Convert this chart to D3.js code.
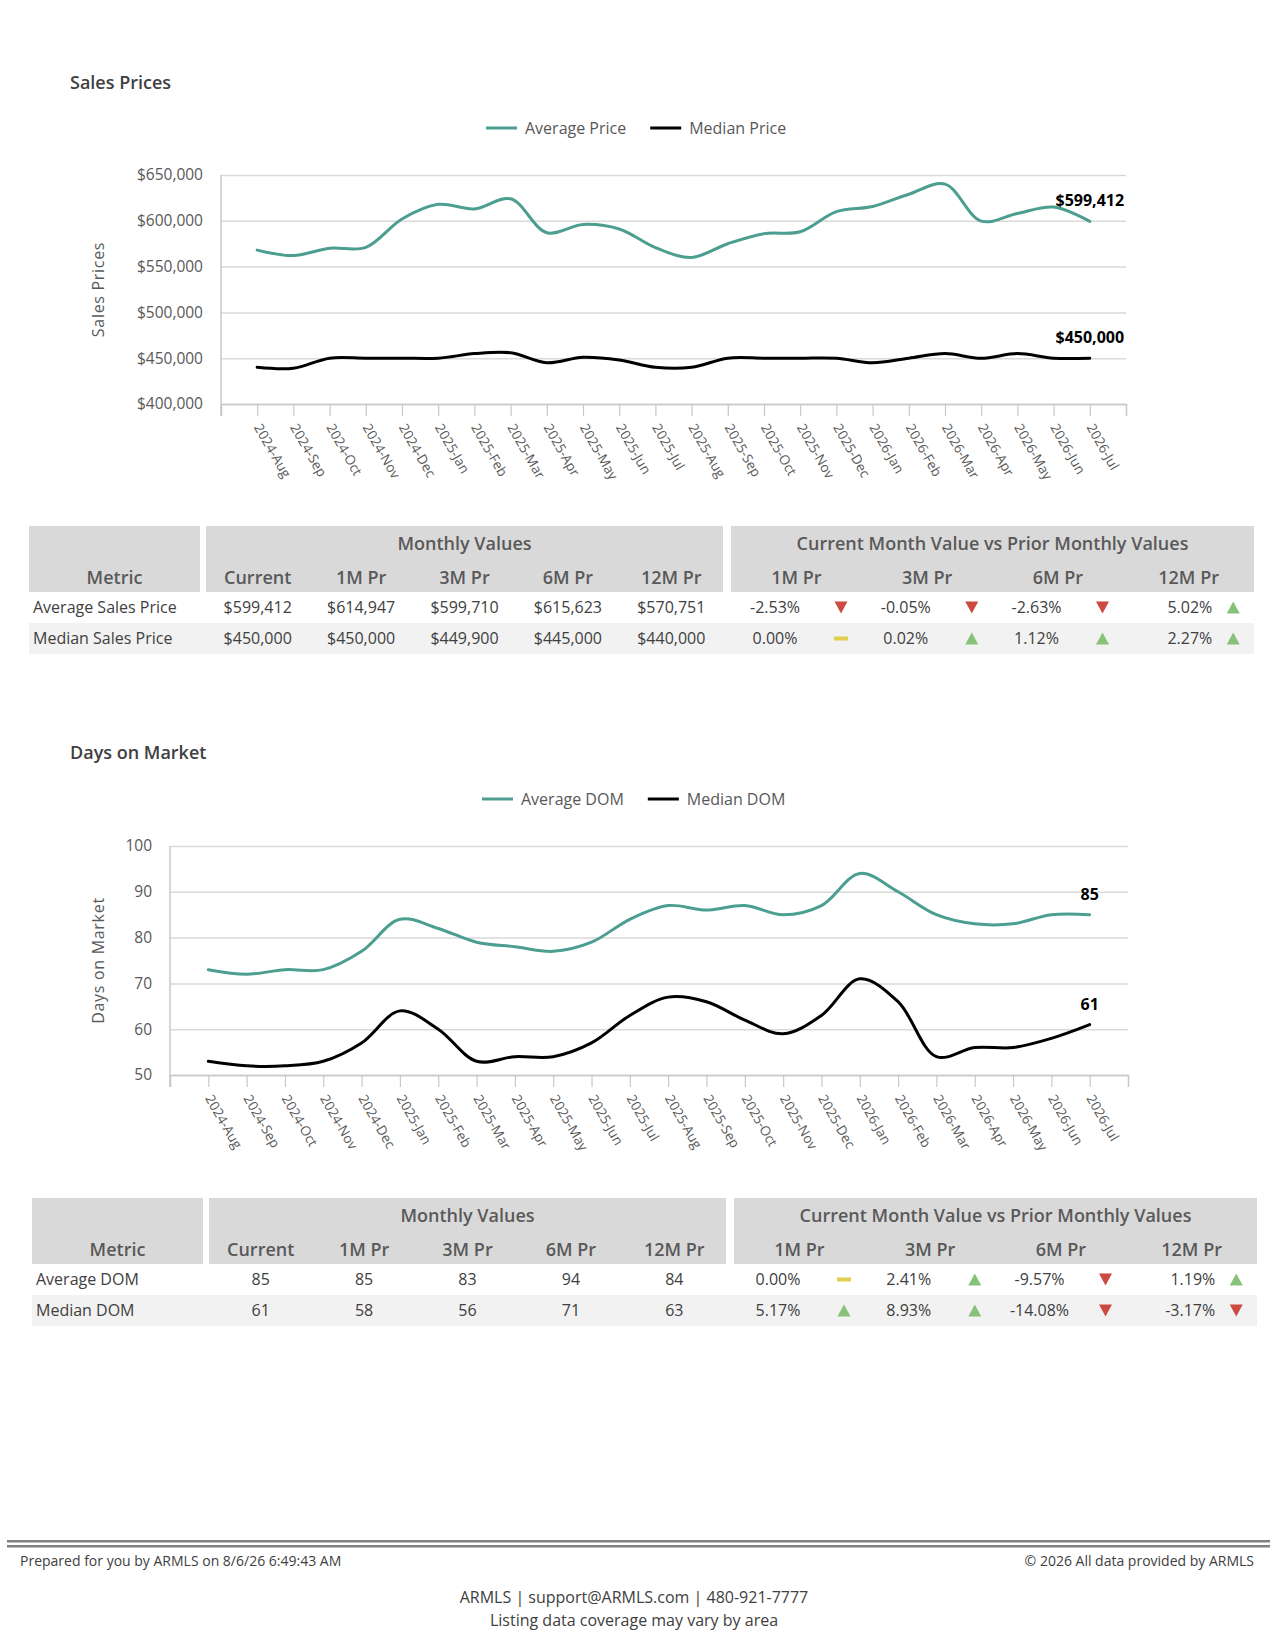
<!DOCTYPE html>
<html>
<head>
<meta charset="utf-8">
<script src="https://cdn.jsdelivr.net/npm/d3@7/dist/d3.min.js"></script>
<style>
  body { margin: 0; background: #fff; }
  svg { display: block; font-family: "Open Sans", sans-serif; }
</style>
</head>
<body>
<div id="page"></div>
<script>
// ---- data ----
var months = ['2024-Aug','2024-Sep','2024-Oct','2024-Nov','2024-Dec','2025-Jan','2025-Feb','2025-Mar',
  '2025-Apr','2025-May','2025-Jun','2025-Jul','2025-Aug','2025-Sep','2025-Oct','2025-Nov','2025-Dec',
  '2026-Jan','2026-Feb','2026-Mar','2026-Apr','2026-May','2026-Jun','2026-Jul'];

var avgPrice = [568000,562000,570000,571000,602000,618000,613000,624000,587000,596000,591000,570751,
  560000,575000,586000,588000,610000,615623,629000,640000,599710,608000,614947,599412];
var medPrice = [440000,439000,450000,450000,450000,450000,455000,456000,445000,451000,448000,440000,
  440000,450000,450000,450000,450000,445000,450000,455000,449900,455000,450000,450000];

var avgDom = [73,72,73,73,77,84,82,79,78,77,79,84,87,86,87,85,87,94,90,85,83,83,85,85];
var medDom = [53,52,52,53,57,64,60,53,54,54,57,63,67,66,62,59,63,71,66,54,56,56,58,61];

var priceTicks = [400000,450000,500000,550000,600000,650000];
var domTicks = [50,60,70,80,90,100];

var monthlyCols = ['Current','1M Pr','3M Pr','6M Pr','12M Pr'];
var changeCols = ['1M Pr','3M Pr','6M Pr','12M Pr'];

var priceMetrics = ['Average Sales Price','Median Sales Price'];
var priceMonthly = [[599412,614947,599710,615623,570751],[450000,450000,449900,445000,440000]];
var priceChange = [[-2.53,-0.05,-2.63,5.02],[0.00,0.02,1.12,2.27]];

var domMetrics = ['Average DOM','Median DOM'];
var domMonthly = [[85,85,83,94,84],[61,58,56,71,63]];
var domChange = [[0.00,2.41,-9.57,1.19],[5.17,8.93,-14.08,-3.17]];

var TEAL = '#4b9e90', GRID = '#d9d9d9', AXIS = '#c8c8c8', TXT = '#595959', DARK = '#404040';
var UP = '#86c27a', DOWN = '#cc4a42', FLAT = '#e2cf4f';

var svg = d3.select('#page').append('svg').attr('width', 1275).attr('height', 1650);

var fmtPrice = d3.format('$,.0f');
var fmtInt = d3.format('d');
function fmtPct(v) { return v.toFixed(2) + '%'; }

function drawChart(c) {
  var g = svg.append('g');
  var x = d3.scalePoint().domain(months).range([c.left, c.right]).padding(1);
  var y = d3.scaleLinear().domain(c.yDomain).range([c.bottom, c.top]);

  g.append('text').attr('x', 70).attr('y', c.titleY)
    .style('font-size', '18px').style('font-weight', 600).attr('fill', DARK).text(c.title);

  // legend
  var lx = c.legendX;
  c.series.forEach(function (s) {
    g.append('line').attr('x1', lx).attr('x2', lx + 31).attr('y1', c.legendY).attr('y2', c.legendY)
      .attr('stroke', s.color).attr('stroke-width', 3);
    var t = g.append('text').attr('x', lx + 39).attr('y', c.legendY).attr('dy', '0.35em')
      .style('font-size', '16px').attr('fill', TXT).text(s.name);
    lx += 39 + t.node().getComputedTextLength() + 24;
  });

  // y axis + gridlines
  var ya = g.append('g').attr('transform', 'translate(' + c.left + ',0)')
    .call(d3.axisLeft(y).tickValues(c.yTicks).tickSize(-(c.right - c.left)).tickPadding(18).tickFormat(c.yFormat));
  ya.attr('font-family', null).attr('font-size', null);
  ya.select('.domain').remove();
  ya.selectAll('.tick line').attr('stroke', GRID).attr('stroke-width', 1.5);
  ya.selectAll('.tick text').attr('fill', TXT).style('font-size', '15.5px');

  g.append('line').attr('x1', c.left).attr('x2', c.left).attr('y1', c.top).attr('y2', c.bottom + 12)
    .attr('stroke', AXIS).attr('stroke-width', 1.5);

  // x axis
  var xa = g.append('g').attr('transform', 'translate(0,' + c.bottom + ')')
    .call(d3.axisBottom(x).tickSizeInner(12).tickSizeOuter(12));
  xa.attr('font-family', null).attr('font-size', null);
  xa.select('.domain').attr('stroke', AXIS).attr('stroke-width', 1.5);
  xa.selectAll('.tick line').attr('stroke', AXIS).attr('stroke-width', 1.2);
  xa.selectAll('.tick text')
    .attr('x', 0).attr('y', 0).attr('dy', '0.35em')
    .attr('transform', 'translate(0,21) rotate(60)')
    .attr('text-anchor', 'start').attr('fill', TXT).style('font-size', '13.5px');

  // axis title
  g.append('text')
    .attr('transform', 'translate(98,' + ((c.top + c.bottom) / 2) + ') rotate(-90)')
    .attr('text-anchor', 'middle').attr('dy', '0.35em')
    .style('font-size', '16px').style('letter-spacing', '0.7px').attr('fill', TXT).text(c.yTitle);

  // series
  var line = d3.line()
    .x(function (d, i) { return x(months[i]); })
    .y(function (d) { return y(d); })
    .curve(d3.curveCatmullRom);

  c.series.forEach(function (s) {
    g.append('path').datum(s.values).attr('d', line)
      .attr('fill', 'none').attr('stroke', s.color).attr('stroke-width', 3)
      .attr('stroke-linejoin', 'round').attr('stroke-linecap', 'round');
    var last = s.values[s.values.length - 1];
    g.append('text').attr('x', x(months[months.length - 1])).attr('y', y(last) - 15)
      .attr('text-anchor', 'middle').style('font-size', '16px').style('font-weight', 700)
      .attr('fill', '#000').text(c.yFormat(last));
  });
}

function drawIcon(g, cx, cy, v) {
  if (v > 0) {
    g.append('path').attr('d', 'M' + (cx - 6.5) + ',' + (cy + 6) + 'L' + (cx + 6.5) + ',' + (cy + 6) + 'L' + cx + ',' + (cy - 6) + 'Z').attr('fill', UP);
  } else if (v < 0) {
    g.append('path').attr('d', 'M' + (cx - 6.5) + ',' + (cy - 6) + 'L' + (cx + 6.5) + ',' + (cy - 6) + 'L' + cx + ',' + (cy + 6) + 'Z').attr('fill', DOWN);
  } else {
    g.append('rect').attr('x', cx - 7).attr('y', cy - 2).attr('width', 14).attr('height', 4).attr('fill', FLAT);
  }
}

function drawTable(t) {
  var g = svg.append('g').attr('transform', 'translate(' + t.dx + ',' + t.top + ')');
  var headH = 66, rowH = 31;
  var metricBox = [29, 200], monthBox = [206, 723], chgBox = [731, 1254];

  [metricBox, monthBox, chgBox].forEach(function (b) {
    g.append('rect').attr('x', b[0]).attr('y', 0).attr('width', b[1] - b[0]).attr('height', headH).attr('fill', '#d9d9d9');
  });
  t.metrics.forEach(function (m, i) {
    if (i % 2 === 1) {
      g.append('rect').attr('x', metricBox[0]).attr('y', headH + rowH * i)
        .attr('width', chgBox[1] - metricBox[0]).attr('height', rowH).attr('fill', '#f2f2f2');
    }
  });

  var xm = d3.scaleBand().domain(monthlyCols).range(monthBox);
  var xc = d3.scaleBand().domain(changeCols).range(chgBox);

  function head(x, y, s) {
    g.append('text').attr('x', x).attr('y', y).attr('dy', '0.35em').attr('text-anchor', 'middle')
      .style('font-size', '18px').style('font-weight', 600).attr('fill', TXT).text(s);
  }
  head((monthBox[0] + monthBox[1]) / 2, 18, 'Monthly Values');
  head((chgBox[0] + chgBox[1]) / 2, 18, 'Current Month Value vs Prior Monthly Values');
  head((metricBox[0] + metricBox[1]) / 2, 52, 'Metric');
  monthlyCols.forEach(function (c) { head(xm(c) + xm.bandwidth() / 2, 52, c); });
  changeCols.forEach(function (c) { head(xc(c) + xc.bandwidth() / 2, 52, c); });

  t.metrics.forEach(function (m, i) {
    var cy = headH + rowH * i + rowH / 2;
    function cell(x, s, anchor) {
      g.append('text').attr('x', x).attr('y', cy).attr('dy', '0.35em').attr('text-anchor', anchor || 'middle')
        .style('font-size', '16px').attr('fill', DARK).text(s);
    }
    cell(metricBox[0] + 4, m, 'start');
    t.monthly[i].forEach(function (v, j) { cell(xm(monthlyCols[j]) + xm.bandwidth() / 2, t.fmt(v)); });
    t.change[i].forEach(function (v, j) {
      var x0 = xc(changeCols[j]);
      if (j === changeCols.length - 1) cell(x0 + 89, fmtPct(v), 'end');
      else cell(x0 + 44, fmtPct(v));
      drawIcon(g, x0 + 110, cy, v);
    });
  });
}

drawChart({
  title: 'Sales Prices', titleY: 89, legendX: 486, legendY: 128,
  left: 221, right: 1126, top: 175, bottom: 404,
  yDomain: [400000, 650000], yTicks: priceTicks, yFormat: fmtPrice, yTitle: 'Sales Prices',
  series: [{ name: 'Average Price', values: avgPrice, color: TEAL },
           { name: 'Median Price', values: medPrice, color: '#000' }]
});

drawTable({ top: 526, dx: 0, metrics: priceMetrics, monthly: priceMonthly, change: priceChange, fmt: fmtPrice });

drawChart({
  title: 'Days on Market', titleY: 759, legendX: 482, legendY: 799,
  left: 170, right: 1128, top: 846, bottom: 1075,
  yDomain: [50, 100], yTicks: domTicks, yFormat: fmtInt, yTitle: 'Days on Market',
  series: [{ name: 'Average DOM', values: avgDom, color: TEAL },
           { name: 'Median DOM', values: medDom, color: '#000' }]
});

drawTable({ top: 1198, dx: 3, metrics: domMetrics, monthly: domMonthly, change: domChange, fmt: fmtInt });

// footer
svg.append('rect').attr('x', 7).attr('y', 1540).attr('width', 1263).attr('height', 2.5).attr('fill', '#808080');
svg.append('rect').attr('x', 7).attr('y', 1545).attr('width', 1263).attr('height', 2.5).attr('fill', '#808080');
svg.append('text').attr('x', 20).attr('y', 1561).attr('dy', '0.35em').style('font-size', '14px').attr('fill', DARK)
  .text('Prepared for you by ARMLS on 8/6/26 6:49:43 AM');
svg.append('text').attr('x', 1254).attr('y', 1561).attr('dy', '0.35em').attr('text-anchor', 'end')
  .style('font-size', '14px').attr('fill', DARK).text('\u00a9 2026 All data provided by ARMLS');
svg.append('text').attr('x', 634).attr('y', 1597).attr('dy', '0.35em').attr('text-anchor', 'middle')
  .style('font-size', '16px').attr('fill', DARK).text('ARMLS | support@ARMLS.com | 480-921-7777');
svg.append('text').attr('x', 634).attr('y', 1620).attr('dy', '0.35em').attr('text-anchor', 'middle')
  .style('font-size', '16px').attr('fill', DARK).text('Listing data coverage may vary by area');
</script>
</body>
</html>
